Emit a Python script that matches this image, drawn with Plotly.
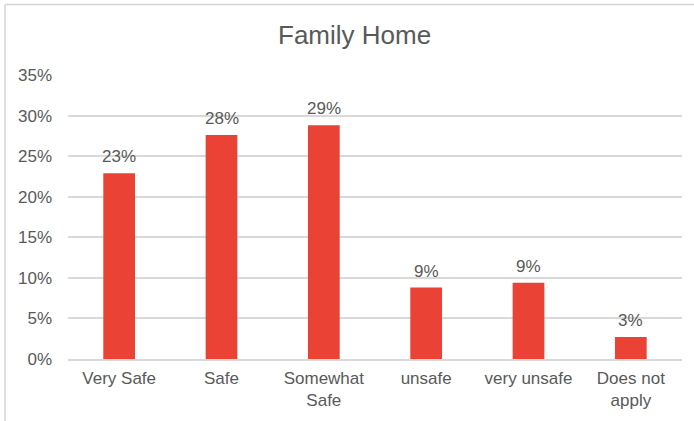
import plotly.graph_objects as go

# Survey responses: how safe respondents feel in the family home
categories = ["Very Safe", "Safe", "Somewhat<br>Safe", "unsafe", "very unsafe", "Does not<br>apply"]
shares = [0.229, 0.276, 0.288, 0.088, 0.094, 0.027]
y_ticks = [0, 0.05, 0.10, 0.15, 0.20, 0.25, 0.30, 0.35]
y_tick_labels = ["0%", "5%", "10%", "15%", "20%", "25%", "30%", "35%"]

TEXT = "#595959"
GRID = "#D9D9D9"
BAR = "#EA4335"
FONT = "Liberation Sans, Arial, sans-serif"

W, H = 694, 421
L, R, T, B = 68, 12, 75, 62
pw, ph = W - L - R, H - T - B


def px_x(x):
    return (x - L) / pw


def px_y(y):
    return (H - B - y) / ph


fig = go.Figure(
    go.Bar(
        x=categories,
        y=shares,
        marker=dict(color=BAR, line=dict(width=0)),
        hoverinfo="skip",
    )
)

# value labels above each bar
for c, v in zip(categories, shares):
    fig.add_annotation(
        x=c, y=v, xref="x", yref="y",
        text=f"{v:.0%}", showarrow=False,
        yanchor="bottom", yshift=5,
        font=dict(family=FONT, size=17, color=TEXT),
    )

# chart title
fig.add_annotation(
    x=px_x(354), y=px_y(35), xref="paper", yref="paper",
    text="Family Home", showarrow=False,
    xanchor="center", yanchor="middle",
    font=dict(family=FONT, size=26, color=TEXT),
)

# chart frame (top and left edges)
frame = dict(color="#D4D4D4", width=1.5)
fig.add_shape(type="line", xref="paper", yref="paper",
              x0=px_x(5), x1=px_x(700), y0=px_y(4.5), y1=px_y(4.5), line=frame)
fig.add_shape(type="line", xref="paper", yref="paper",
              x0=px_x(5), x1=px_x(5), y0=px_y(4.5), y1=px_y(430), line=frame)

fig.update_layout(
    width=W, height=H,
    margin=dict(l=L, r=R, t=T, b=B, pad=0),
    paper_bgcolor="white", plot_bgcolor="white",
    bargap=0.69,
    showlegend=False,
    font=dict(family=FONT, size=17, color=TEXT),
    xaxis=dict(
        showgrid=False, showline=True, linecolor=GRID, linewidth=1.5,
        ticks="", tickfont=dict(family=FONT, size=17, color=TEXT),
        ticklabelstandoff=3,
        fixedrange=True,
    ),
    yaxis=dict(
        range=[0, 0.35], tickvals=y_ticks, ticktext=y_tick_labels,
        showgrid=True, gridcolor=GRID, gridwidth=1.5,
        zeroline=False, showline=False, ticks="",
        ticklabelstandoff=15,
        tickfont=dict(family=FONT, size=17, color=TEXT),
        fixedrange=True,
    ),
)

fig.write_html("out.html")
